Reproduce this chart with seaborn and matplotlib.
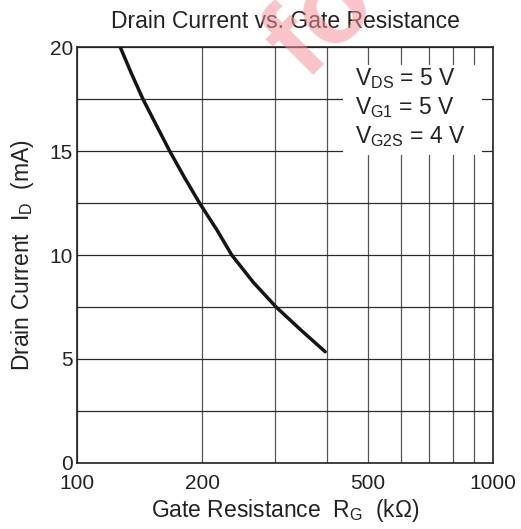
import matplotlib
matplotlib.use("Agg")
import matplotlib.pyplot as plt
import seaborn as sns
import pandas as pd
from matplotlib.ticker import FixedLocator, NullFormatter, FixedFormatter
from matplotlib.patches import Rectangle

# data
gate_resistance_kohm = [127, 135, 144, 155.5, 167, 181, 197, 217, 235.5, 265, 301, 345, 395]
drain_current_ma = [20.0, 18.75, 17.5, 16.2, 15.0, 13.75, 12.5, 11.2, 10.0, 8.7, 7.5, 6.4, 5.35]

x_major_ticks = [100, 200, 500, 1000]
x_major_labels = ["100", "200", "500", "1000"]
x_grid = [100, 200, 300, 400, 500, 600, 700, 800, 900, 1000]
y_major_ticks = [0, 5, 10, 15, 20]
y_grid = [0, 2.5, 5, 7.5, 10, 12.5, 15, 17.5, 20]
conditions = [r"V$_{\mathregular{DS}}$ = 5 V", r"V$_{\mathregular{G1}}$ = 5 V", r"V$_{\mathregular{G2S}}$ = 4 V"]

sns.set_theme(style="white")
plt.rcParams["font.family"] = ["Liberation Sans", "DejaVu Sans"]
plt.rcParams["mathtext.default"] = "regular"

df = pd.DataFrame({"rg": gate_resistance_kohm, "id": drain_current_ma})

fig = plt.figure(figsize=(5.21, 5.29), dpi=100)
ax = fig.add_axes([77/521, 1-463/529, 416/521, 416/529])

ax.set_xscale("log")
ax.set_xlim(100, 1000)
ax.set_ylim(0, 20)

for xv in x_grid:
    ax.axvline(xv, color="#555555", lw=0.9, zorder=1)
for yv in y_grid:
    ax.axhline(yv, color="#2a2a2a", lw=0.9, zorder=1)

sns.lineplot(data=df, x="rg", y="id", ax=ax, color="#151515", linewidth=2.5, zorder=4)

ax.xaxis.set_major_locator(FixedLocator(x_major_ticks))
ax.xaxis.set_major_formatter(FixedFormatter(x_major_labels))
ax.xaxis.set_minor_locator(FixedLocator([]))
ax.xaxis.set_minor_formatter(NullFormatter())
ax.yaxis.set_major_locator(FixedLocator(y_major_ticks))
ax.tick_params(axis="both", which="both", length=0, labelsize=15, colors="#222222")
ax.tick_params(axis="x", pad=8)
ax.tick_params(axis="y", pad=3)

for s in ax.spines.values():
    s.set_color("#222222")
    s.set_linewidth(1.2)

ax.set_xlabel("Gate Resistance  R$_{\\mathregular{G}}$  (kΩ)", fontsize=16.5, color="#222222", labelpad=3)
ax.set_ylabel("Drain Current  I$_{\\mathregular{D}}$  (mA)", fontsize=16.5, color="#222222", labelpad=10)
ax.set_title("Drain Current vs. Gate Resistance", fontsize=16.5, color="#222222", pad=14)

# condition box
ax.add_patch(Rectangle((0.639, 0.740), 0.335, 0.217, transform=ax.transAxes,
                       facecolor="white", edgecolor="none", zorder=2))
for i, t in enumerate(conditions):
    ax.text(0.668, 0.909 - i*0.070, t, transform=ax.transAxes, fontsize=16.5,
            color="#222222", ha="left", va="baseline", zorder=3)

# watermark
fig.text(322/521, 1-24/529, "fo", rotation=45, fontsize=80, fontweight="bold",
         color="#f4939c", alpha=0.55, ha="center", va="center", zorder=10)

fig.savefig("out.png", dpi=100)
